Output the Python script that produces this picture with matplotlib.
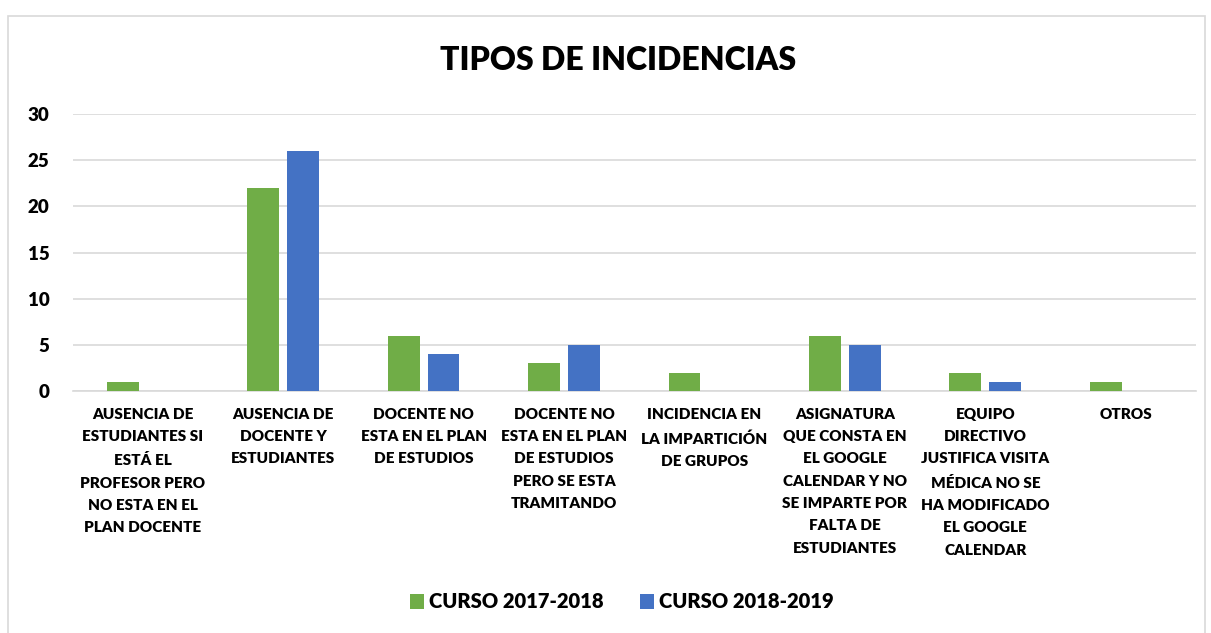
import numpy as np
import matplotlib.pyplot as plt
from matplotlib.patches import Rectangle

plt.rcParams['font.family'] = ['Lato', 'DejaVu Sans']
plt.rcParams['font.weight'] = 'heavy'

categorias = [
    "AUSENCIA DE\nESTUDIANTES SI\nESTÁ EL\nPROFESOR PERO\nNO ESTA EN EL\nPLAN DOCENTE",
    "AUSENCIA DE\nDOCENTE Y\nESTUDIANTES",
    "DOCENTE NO\nESTA EN EL PLAN\nDE ESTUDIOS",
    "DOCENTE NO\nESTA EN EL PLAN\nDE ESTUDIOS\nPERO SE ESTA\nTRAMITANDO",
    "INCIDENCIA EN\nLA IMPARTICIÓN\nDE GRUPOS",
    "ASIGNATURA\nQUE CONSTA EN\nEL GOOGLE\nCALENDAR Y NO\nSE IMPARTE POR\nFALTA DE\nESTUDIANTES",
    "EQUIPO\nDIRECTIVO\nJUSTIFICA VISITA\nMÉDICA NO SE\nHA MODIFICADO\nEL GOOGLE\nCALENDAR",
    "OTROS",
]
curso_2017 = [1, 22, 6, 3, 2, 6, 2, 1]
curso_2018 = [0, 26, 4, 5, 0, 5, 1, 0]
series = ["CURSO 2017-2018", "CURSO 2018-2019"]

fig = plt.figure(figsize=(12.11, 6.33), dpi=100)
fig.patches.append(Rectangle((8 / 1211, -0.01), 1197 / 1211, 1 - 16 / 633 + 0.01,
                             transform=fig.transFigure, fill=False,
                             edgecolor='#D9D9D9', lw=1.2))
ax = fig.add_axes([72.5 / 1211, 1 - 391 / 633, 1123.5 / 1211, 277 / 633])

x = np.arange(len(categorias))
w = 0.227
ax.bar(x - 0.142, curso_2017, w, color='#70AD47', label=series[0], zorder=3)
ax.bar(x + 0.142, curso_2018, w, color='#4472C4', label=series[1], zorder=3)

ax.set_xlim(-0.5, len(categorias) - 0.5)
ax.set_ylim(0, 30)
ax.set_yticks(range(0, 31, 5))
ax.yaxis.grid(True, color='#D9D9D9', lw=1.2, zorder=0)
for s in ['top', 'right', 'left']:
    ax.spines[s].set_visible(False)
ax.spines['bottom'].set_color('#D9D9D9')
ax.spines['bottom'].set_linewidth(1.2)
ax.tick_params(length=0)
ax.tick_params(axis='y', labelsize=13.5, pad=16.5)
ax.set_xticks(x)
ax.set_xticklabels(categorias, fontsize=11, linespacing=1.85)
ax.tick_params(axis='x', pad=12)

fig.text(618 / 1211, 1 - 60 / 633, "TIPOS DE INCIDENCIAS", ha='center', va='center',
         fontsize=23)

fig.legend(loc='center', bbox_to_anchor=(622 / 1211, 1 - 602 / 633), ncol=2,
           frameon=False, fontsize=14.5, handlelength=0.7, handleheight=0.7,
           columnspacing=1.8, handletextpad=0.25)

fig.savefig('out.png', dpi=100)
